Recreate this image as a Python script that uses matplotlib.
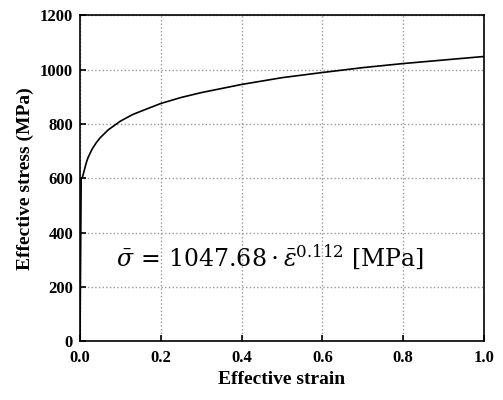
import matplotlib
matplotlib.use("Agg")
import matplotlib.pyplot as plt

strain = [0, 0.003, 0.006, 0.01, 0.015, 0.02, 0.03, 0.04, 0.05, 0.07, 0.1, 0.13, 0.15, 0.2, 0.25, 0.3, 0.4, 0.5, 0.6, 0.7, 0.8, 0.9, 1.0]
stress = [0, 600, 603, 625, 654, 676, 707, 730, 749, 778, 810, 834, 846, 875, 897, 915, 945, 970, 989, 1007, 1022, 1035, 1048]
xticks = [0.0, 0.2, 0.4, 0.6, 0.8, 1.0]
yticks = [0, 200, 400, 600, 800, 1000, 1200]

plt.rcParams['font.family'] = ['Liberation Serif', 'DejaVu Serif']
plt.rcParams['mathtext.fontset'] = 'dejavuserif'
fig = plt.figure(figsize=(5.03, 4.0), dpi=100)
ax = fig.add_axes([0.159, 0.147, 0.803, 0.815])
ax.plot(strain, stress, color='black', lw=1.2)
ax.set_xlim(0, 1.0)
ax.set_ylim(0, 1200)
ax.set_xticks(xticks)
ax.set_yticks(yticks)
ax.set_xticklabels([f"{t:.1f}" for t in xticks], fontweight='bold', fontsize=12)
ax.set_yticklabels([str(t) for t in yticks], fontweight='bold', fontsize=12)
ax.tick_params(direction='in', length=4, width=1.2)
ax.tick_params(axis='x', pad=6)
ax.tick_params(axis='y', pad=5)
for s in ax.spines.values():
    s.set_linewidth(1.2)
ax.grid(True, color='#999999', linestyle=':', lw=1)
ax.set_xlabel('Effective strain', fontweight='bold', fontsize=14)
ax.set_ylabel('Effective stress (MPa)', fontweight='bold', fontsize=14)
ax.text(0.09, 310, r'$\bar{\sigma}\,=\,1047.68\cdot\bar{\varepsilon}^{0.112}\ \mathrm{[MPa]}$', fontsize=17, va='center')
fig.savefig('out.png', dpi=100)
